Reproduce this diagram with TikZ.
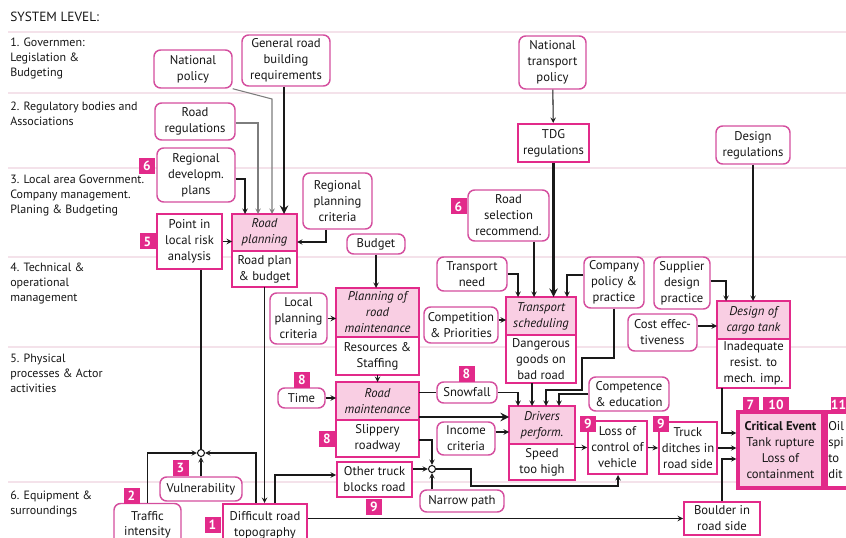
\documentclass[tikz,border=0pt]{standalone}
\usepackage{fontspec}
\setmainfont{PT Sans}
\usetikzlibrary{positioning}

\definecolor{mag}{RGB}{226,42,138}
\definecolor{rbord}{RGB}{212,78,158}
\definecolor{pinkfill}{RGB}{249,206,227}
\definecolor{bandcol}{RGB}{244,226,234}
\definecolor{txt}{RGB}{22,22,22}
\definecolor{linecol}{RGB}{25,25,25}
\definecolor{greycol}{RGB}{125,125,125}

\tikzset{
  wh/.style 2 args={minimum width=#1*0.75pt,minimum height=#2*0.75pt},
  txtfont/.style={font=\fontsize{9.5}{12}\selectfont, text=txt},
  cause/.style={txtfont, draw=rbord, line width=1.1pt, rounded corners=5pt, fill=white, align=center, inner sep=1pt},
  factor/.style={txtfont, draw=mag, line width=1.5pt, fill=white, align=center, inner sep=1pt},
  activity/.style={factor, fill=pinkfill, font=\fontsize{9.5}{12}\selectfont\itshape, outer sep=0pt},
  result/.style={factor, outer sep=0pt},
  badge/.style={fill=mag, text=white, font=\fontsize{10}{12}\selectfont\bfseries, minimum size=16*0.75pt, inner sep=0pt},
  junc/.style={circle, draw=linecol, line width=0.8pt, fill=white, minimum size=7*0.75pt, inner sep=0pt},
  lvltext/.style={anchor=north west, inner sep=0pt, align=left, font=\fontsize{9}{11}\selectfont, text=txt},
  bandln/.style={draw=bandcol, line width=0.8pt},
  wire/.style={->, draw=linecol, line width=0.8pt},
  thickwire/.style={wire, line width=1.8pt},
  greywire/.style={wire, draw=greycol},
}

\begin{document}
\begin{tikzpicture}[x=0.75pt, y=-0.75pt, >=stealth]
    \useasboundingbox (0,0) rectangle (846,538);
    \clip (0,0) rectangle (846,538);

    \foreach \yy in {32,93,168,257,347,482}
        \draw[bandln] (8,\yy) -- (846,\yy);

    \node[lvltext, font=\fontsize{10}{12}\selectfont] (syslvl) at (10,12) {SYSTEM LEVEL:};
    \node[lvltext] (lvl1) at (10,38) {1. Governmen:\\Legislation \&\\Budgeting};
    \node[lvltext] (lvl2) at (10,102) {2. Regulatory bodies and\\Associations};
    \node[lvltext] (lvl3) at (10,175) {3. Local area Government.\\Company management.\\Planing \& Budgeting};
    \node[lvltext] (lvl4) at (10,263) {4. Technical \&\\operational\\management};
    \node[lvltext] (lvl5) at (10,354) {5. Physical\\processes \& Actor\\activities};
    \node[lvltext] (lvl6) at (10,491) {6. Equipment \&\\surroundings};

    \node[cause, wh={78}{38}] (natpol) at (193,69) {National\\policy};
    \node[cause, wh={88}{51}] (genroad) at (286,60.5) {General road\\building\\requirements};
    \node[cause, wh={80}{37}] (roadreg) at (195,121.5) {Road\\regulations};
    \node[cause, wh={78}{54}] (regdev) at (196,175) {Regional\\developm.\\plans};
    \node[factor, wh={65}{55}] (pointrisk) at (189.5,241.5) {Point in\\local risk\\analysis};
    \node[activity, wh={65}{37}] (rplan) at (264.5,232.5) {Road\\planning};
    \node[result, wh={65}{36}, below=0pt of rplan] (rplanbud) {Road plan\\\& budget};
    \node[cause, wh={69}{56}] (regcrit) at (337.5,201) {Regional\\planning\\criteria};
    \node[cause, wh={58}{20}] (budget) at (376,244) {Budget};
    \node[cause, wh={57}{51}] (locplan) at (298.5,318.5) {Local\\planning\\criteria};
    \node[activity, wh={83}{49}] (pmaint) at (377.5,312.5) {Planning of\\road\\maintenance};
    \node[result, wh={83}{38}, below=0pt of pmaint] (pmres) {Resources \&\\Staffing};
    \node[cause, wh={47}{20}] (time) at (301.5,398) {Time};
    \node[activity, wh={83}{38}] (rmaint) at (377.5,401) {Road\\maintenance};
    \node[result, wh={83}{37}, below=0pt of rmaint] (rmslip) {Slippery\\roadway};
    \node[factor, wh={75}{35}] (othertr) at (374.5,479.5) {Other truck\\blocks road};
    \node[cause, wh={60}{21}] (snow) at (467,392.5) {Snowfall};
    \node[cause, wh={67}{53}] (nattr) at (552.5,62.5) {National\\transport\\policy};
    \node[factor, wh={71}{38}] (tdg) at (553.5,143) {TDG\\regulations};
    \node[cause, wh={81}{51}] (roadsel) at (508.5,215.5) {Road\\selection\\recommend.};
    \node[cause, wh={70}{34}] (trneed) at (472,274) {Transport\\need};
    \node[cause, wh={74}{36}] (compet) at (461,325) {Competition\\\& Priorities};
    \node[activity, wh={70}{38}] (tsched) at (541,316) {Transport\\scheduling};
    \node[result, wh={70}{48}, below=0pt of tsched] (tsdang) {Dangerous\\goods on\\bad road};
    \node[cause, wh={60}{51}] (comppol) at (614,282.5) {Company\\policy \&\\practice};
    \node[cause, wh={56}{52}] (supplier) at (682,283) {Supplier\\design\\practice};
    \node[cause, wh={74}{38}] (desreg) at (753,145) {Design\\regulations};
    \node[cause, wh={69}{37}] (costeff) at (662.5,332.5) {Cost effec-\\tiveness};
    \node[activity, wh={73}{38}] (dtank) at (753.5,320) {Design of\\cargo tank};
    \node[result, wh={73}{49}, below=0pt of dtank] (dtinad) {Inadequate\\resist. to\\mech. imp.};
    \node[cause, wh={80}{34}] (compedu) at (629,394) {Competence\\\& education};
    \node[cause, wh={58}{33}] (income) at (466,438.5) {Income\\criteria};
    \node[activity, wh={66}{38}] (drivers) at (542,425) {Drivers\\perform.};
    \node[result, wh={66}{36}, below=0pt of drivers] (drspeed) {Speed\\too high};
    \node[factor, wh={59}{53}] (lossctl) at (617.5,447.5) {Loss of\\control of\\vehicle};
    \node[factor, wh={58}{52}] (ditch) at (688,448) {Truck\\ditches in\\road side};
    \node[factor, wh={85}{76}, fill=pinkfill, line width=2.4pt] (critical) at (780.5,450) {\textbf{Critical Event}\\Tank rupture\\Loss of\\containment};
    \node[factor, wh={40}{76}, anchor=west, line width=2.4pt] (oil) at (critical.east) {};
    \node[txtfont, anchor=west, align=left, inner sep=0pt] (oiltext) at (828,450) {Oil\\spi\\to\\dit};
    \node[cause, wh={84}{22}] (narrow) at (462,501) {Narrow path};
    \node[factor, wh={76}{33}] (boulder) at (722,518.5) {Boulder in\\road side};
    \node[cause, wh={82}{24}] (vulner) at (201,489) {Vulnerability};
    \node[cause, wh={67}{42}, font=\fontsize{9.5}{11.5}\selectfont] (traffic) at (147.5,524.5) {Traffic\\intensity};
    \node[factor, wh={84}{42}] (difficult) at (265,525) {Difficult road\\topography};
    \node[junc] (j1) at (201,453) {};
    \node[junc] (j2) at (432,469) {};

    \node[badge] (b6a) at (147,166) {6};
    \node[badge] (b5) at (147.5,241.5) {5};
    \node[badge] (b8a) at (302,380) {8};
    \node[badge] (b8b) at (327,438.5) {8};
    \node[badge] (b8c) at (466.5,373.5) {8};
    \node[badge] (b9a) at (374,506.5) {9};
    \node[badge] (b6b) at (458.5,206.5) {6};
    \node[badge] (b3) at (180.5,467.5) {3};
    \node[badge] (b2) at (131.5,495.5) {2};
    \node[badge] (b1) at (212.5,525) {1};
    \node[badge] (b9b) at (588,424) {9};
    \node[badge] (b9c) at (661,424) {9};
    \node[badge] (b7) at (750.5,405) {7};
    \node[badge, minimum width=26*0.75pt] (b10) at (776,405) {10};
    \node[badge, minimum width=15*0.75pt] (b11) at (838.5,405) {11};

    \draw[wire] (regdev.east |- 0,179) -| (245,0 |- rplan.north);
    \draw[greywire] (roadreg.east |- 0,123) -| (258,0 |- rplan.north);
    \draw[greywire] (natpol.south east) -- (272,99) -- (272,0 |- rplan.north);
    \draw[thickwire] (genroad.south -| 284,0) -- (284,0 |- rplan.north);
    \draw[wire] (pointrisk.east) -- (pointrisk.east -| rplan.west);
    \draw[wire] (regcrit.south -| 326,0) |- (rplan.east |- 0,242);
    \draw[wire] (rplanbud.south) -- (rplanbud.south |- difficult.north);
    \draw[wire, -] (j1 |- pointrisk.south) -- (j1.north);
    \draw[wire] (vulner.north -| j1) -- (j1.south);
    \draw[wire] (traffic.north) |- (j1.west);
    \draw[wire] (difficult.north -| 256,0) |- (j1.east);
    \draw[wire] (difficult.north -| 275,0) |- (othertr.west |- 0,475);
    \draw[wire] (boulder.west -| difficult.east) -- (boulder.west);
    \draw[wire] (time.east) -- (time.east -| rmaint.west);
    \draw[wire] (locplan.east) -- (locplan.east -| pmaint.west);
    \draw[wire] (budget.south) -- (budget.south |- pmaint.north);
    \draw[wire] (pmres.south) -- (rmaint.north);
    \draw[wire, -] (rmaint.east |- snow.west) -- (snow.west);
    \draw[wire] (snow.east) -| (518,0 |- drivers.north);
    \draw[thickwire] (rmaint.east |- 0,417) -- (drivers.west |- 0,417);
    \draw[wire] (income.east |- 0,432) -- (drivers.west |- 0,432);
    \draw[wire] (tsdang.south -| 532,0) -- (532,0 |- drivers.north);
    \draw[wire] (comppol.south) |- (582,358) |- (546,390) -- (546,0 |- drivers.north);
    \draw[wire] (compedu.west) -| (559,0 |- drivers.north);
    \draw[wire] (lossctl.west -| drspeed.east) -- (lossctl.west);
    \draw[wire] (lossctl.east) -- (ditch.west);
    \draw[wire] (ditch.east) -- (ditch.east -| critical.west);
    \draw[wire] (dtinad.south -| 722,0) |- (critical.west |- 0,433);
    \draw[wire] (boulder.north) |- (critical.west |- 0,459);
    \draw[wire] (rmslip.east |- 0,440) -| (j2.north);
    \draw[wire] (othertr.east |- j2) -- (j2.west);
    \draw[wire] (narrow.north -| j2) -- (j2.south);
    \draw[wire] (j2.east) -| (471,486) -| (lossctl.south -| 618,0);
    \draw[wire] (desreg.south) -- (desreg.south |- dtank.north);
    \draw[wire] (supplier.east |- 0,281) -| (726,0 |- dtank.north);
    \draw[wire] (costeff.east |- 0,326) -- (dtank.west |- 0,326);
    \draw[wire] (nattr) -- (tdg);
    \draw[thickwire] (tdg.south) -- (tdg.south |- tsched.north);
    \draw[wire] (roadsel.south -| 534,0) -- (534,0 |- tsched.north);
    \draw[wire] (trneed.east) -| (518,0 |- tsched.north);
    \draw[wire] (comppol.west |- 0,275) -| (567,0 |- tsched.north);
    \draw[wire] (compet.east |- 0,320) -- (tsched.west |- 0,320);
\end{tikzpicture}
\end{document}
